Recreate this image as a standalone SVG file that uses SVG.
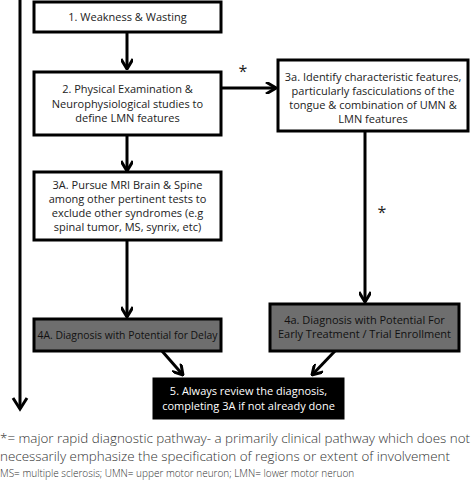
<svg xmlns="http://www.w3.org/2000/svg" width="473" height="490" viewBox="0 0 473 490">
<style>
.box{stroke:#000;stroke-width:3;}
.w{fill:#fff;}
.g{fill:#6e6e6e;}
.k{fill:#000;}
.t{font-family:"Open Sans","Liberation Sans",sans-serif;font-size:11px;text-anchor:middle;fill:#222;}
.td{fill:#111;}
.tw{fill:#fff;}
.c{stroke:#000;stroke-width:3;fill:none;}
.star{font-family:"Open Sans","Liberation Sans",sans-serif;font-size:16px;fill:#222;}
.fn{font-family:"Open Sans","Liberation Sans",sans-serif;font-weight:300;fill:#333;}
</style>
<defs>
<marker id="ah" viewBox="0 0 12 12" refX="11" refY="6" markerWidth="12" markerHeight="12" markerUnits="userSpaceOnUse" orient="auto">
<path d="M1,0 L11,6 L1,12" fill="none" stroke="#000" stroke-width="3"/>
</marker>
</defs>
<rect width="473" height="490" fill="#fff"/>
<g id="connectors">
<path class="c" d="M20,0 V409" />
<path class="c" d="M13,398 L20,409 L27,398" />
<path class="c" d="M127,32 V69" marker-end="url(#ah)"/>
<path class="c" d="M221,88 H276" marker-end="url(#ah)"/>
<path class="c" d="M127,135 V171" marker-end="url(#ah)"/>
<path class="c" d="M127,240 V317" marker-end="url(#ah)"/>
<path class="c" d="M365,131 V302" marker-end="url(#ah)"/>
<path class="c" d="M162,351 L183,375" marker-end="url(#ah)"/>
<path class="c" d="M335,351 L312,375" marker-end="url(#ah)"/>
<text class="star" x="243" y="77" text-anchor="middle">*</text>
<text class="star" x="382" y="218" text-anchor="middle">*</text>
</g>
<g id="n1">
<rect class="box w" x="34" y="2" width="187" height="30"/>
<text class="t" x="127.5" y="21">1.  Weakness &amp; Wasting</text>
</g>
<g id="n2">
<rect class="box w" x="34" y="72" width="187" height="63"/>
<text class="t" x="127.5" y="93">2. Physical Examination &amp;</text>
<text class="t" x="127.5" y="107.5">Neurophysiological studies to</text>
<text class="t" x="127.5" y="122">define LMN features</text>
</g>
<g id="n3a">
<rect class="box w" x="278" y="60" width="190" height="71"/>
<text class="t" x="373" y="81">3a. Identify characteristic features,</text>
<text class="t" x="373" y="95">particularly fasciculations of the</text>
<text class="t" x="373" y="109">tongue &amp; combination of UMN &amp;</text>
<text class="t" x="373" y="123">LMN features</text>
</g>
<g id="n3A">
<rect class="box w" x="34" y="172" width="187" height="68"/>
<text class="t" x="127.5" y="189">3A. Pursue MRI Brain &amp; Spine</text>
<text class="t" x="127.5" y="203">among other pertinent tests to</text>
<text class="t" x="127.5" y="217">exclude other syndromes (e.g</text>
<text class="t" x="127.5" y="231">spinal tumor, MS, synrix, etc)</text>
</g>
<g id="n4A">
<rect class="box g" x="34" y="319" width="187" height="32"/>
<text class="t td" x="127.5" y="339" textLength="180" lengthAdjust="spacingAndGlyphs">4A. Diagnosis with Potential for Delay</text>
</g>
<g id="n4a">
<rect class="box g" x="270" y="304" width="189" height="47"/>
<text class="t td" x="364.5" y="324">4a. Diagnosis with Potential For</text>
<text class="t td" x="364.5" y="338">Early Treatment / Trial Enrollment</text>
</g>
<g id="n5">
<rect class="box k" x="154" y="379" width="189" height="39"/>
<text class="t tw" x="248.5" y="395">5. Always review the diagnosis,</text>
<text class="t tw" x="248.5" y="410">completing 3A if not already done</text>
</g>
<g id="footnote">
<text class="fn" x="0" y="443" font-size="13" textLength="470" lengthAdjust="spacingAndGlyphs">*= major rapid diagnostic pathway- a primarily clinical pathway which does not</text>
<text class="fn" x="0" y="461" font-size="13" textLength="450" lengthAdjust="spacingAndGlyphs">necessarily emphasize the specification of regions or extent of involvement</text>
<text class="fn" x="0" y="477" font-size="10">MS= multiple sclerosis; UMN= upper motor neuron; LMN= lower motor neruon</text>
</g>
</svg>
